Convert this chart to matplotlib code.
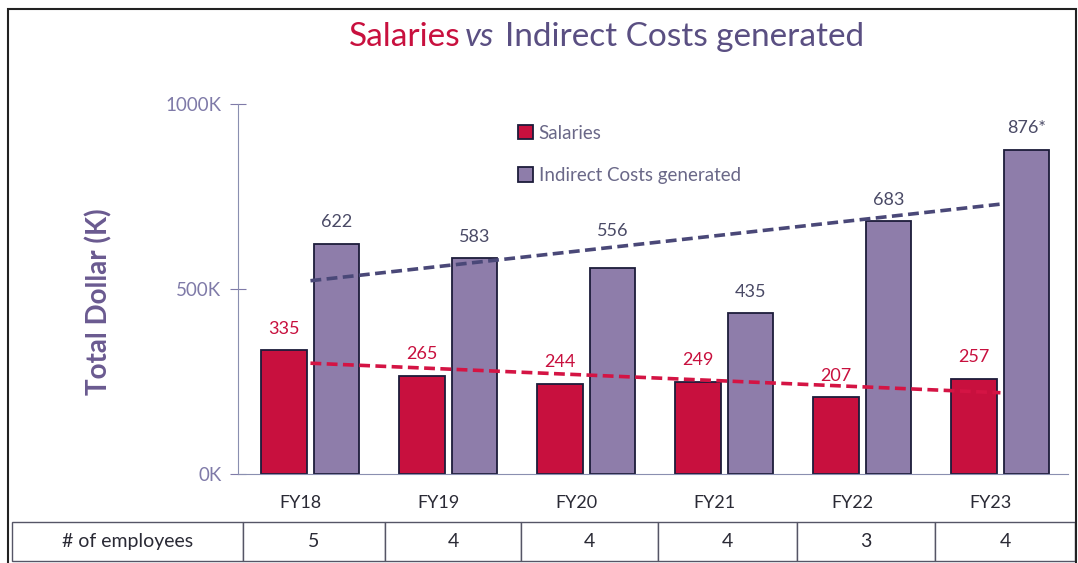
#SALARIES VS INDIRECT COSTS CHART
import matplotlib.pyplot as plt
import numpy as np

plt.rcParams['font.family'] = ['Lato', 'DejaVu Sans']

years = ['FY18', 'FY19', 'FY20', 'FY21', 'FY22', 'FY23']
salaries = [335, 265, 244, 249, 207, 257]
indirect = [622, 583, 556, 435, 683, 876]
indirect_labels = ['622', '583', '556', '435', '683', '876*']
label_lift = [58, 58, 100, 58, 58, 58]  # FY20 label sits higher, above the trend line
employees = ['5', '4', '4', '4', '3', '4']

red = '#C8103E'
purple = '#8E7DAA'
x = np.arange(len(years))
w = 0.33

fig = plt.figure(figsize=(10.78, 5.63), dpi=100)
ax = fig.add_axes([0.2208, 0.1581, 0.77, 0.6572])

plt.bar(x - 0.19, salaries, w, color=red, edgecolor='#1c1c3a', linewidth=1.3, label='Salaries')
plt.bar(x + 0.19, indirect, w, color=purple, edgecolor='#1c1c3a', linewidth=1.3, label='Indirect Costs generated')

for i in range(len(years)):
    plt.text(x[i] - 0.19, salaries[i] + 58, str(salaries[i]), ha='center', va='center', color=red, fontsize=13)
    plt.text(x[i] + 0.19, indirect[i] + label_lift[i], indirect_labels[i], ha='center', va='center', color='#4a4a66', fontsize=13)

# trend lines
fit_s = np.polyfit(x, salaries, 1)
fit_i = np.polyfit(x, indirect, 1)
plt.plot(x, np.polyval(fit_s, x), '--', color='#D41444', linewidth=2.6, dashes=(3, 1.5))
plt.plot(x, np.polyval(fit_i, x), '--', color='#4a4878', linewidth=2.6, dashes=(3, 1.5))

plt.xlim(-0.525, 5.49)
plt.ylim(0, 1000)
plt.yticks([0, 500, 1000], ['0K', '500K', '1000K'])
plt.xticks(x - 0.07, years, fontsize=13, color='#2a2a35')
ax.tick_params(axis='x', length=0, pad=15)
ax.tick_params(axis='y', direction='inout', length=12, colors='#7f7aa8', labelsize=13.5, pad=6)
ax.spines['top'].set_visible(False)
ax.spines['right'].set_visible(False)
ax.spines['left'].set_color('#8a8fb0')
ax.spines['bottom'].set_color('#8a8fb0')
plt.ylabel('Total Dollar (K)', fontsize=20, fontweight='bold', color='#6a5a90')
ax.yaxis.set_label_coords(-0.151, 0.465)

plt.legend(loc='upper left', bbox_to_anchor=(0.317, 0.99), frameon=False, fontsize=13.5,
           handlelength=0.8, handleheight=0.8, handletextpad=0.3, labelspacing=1.35, labelcolor='#6a6888')

# title in two colours
fig.text(0.427, 0.935, 'Salaries', ha='right', va='center', fontsize=24, color=red)
fig.text(0.431, 0.935, 'vs', ha='left', va='center', fontsize=24, color='#5a4f82', style='italic')
fig.text(0.468, 0.935, 'Indirect Costs generated', ha='left', va='center', fontsize=24, color='#5a4f82')

# employees table under the chart
table = plt.table(cellText=[['# of employees'] + employees], cellLoc='center',
                  colWidths=[231, 142, 136, 137, 139, 138, 140],
                  bbox=[-0.2723, -0.2351, 1.2807, 0.1054])
table.auto_set_font_size(False)
table.set_fontsize(14)
for cell in table.get_celld().values():
    cell.set_edgecolor('#555566')
    cell.get_text().set_color('#2a2a35')

fig.add_artist(plt.Rectangle((0.0074, -0.01), 0.9907, 0.994, transform=fig.transFigure,
                             fill=False, edgecolor='#222222', linewidth=1.5))

plt.savefig('out.png')
